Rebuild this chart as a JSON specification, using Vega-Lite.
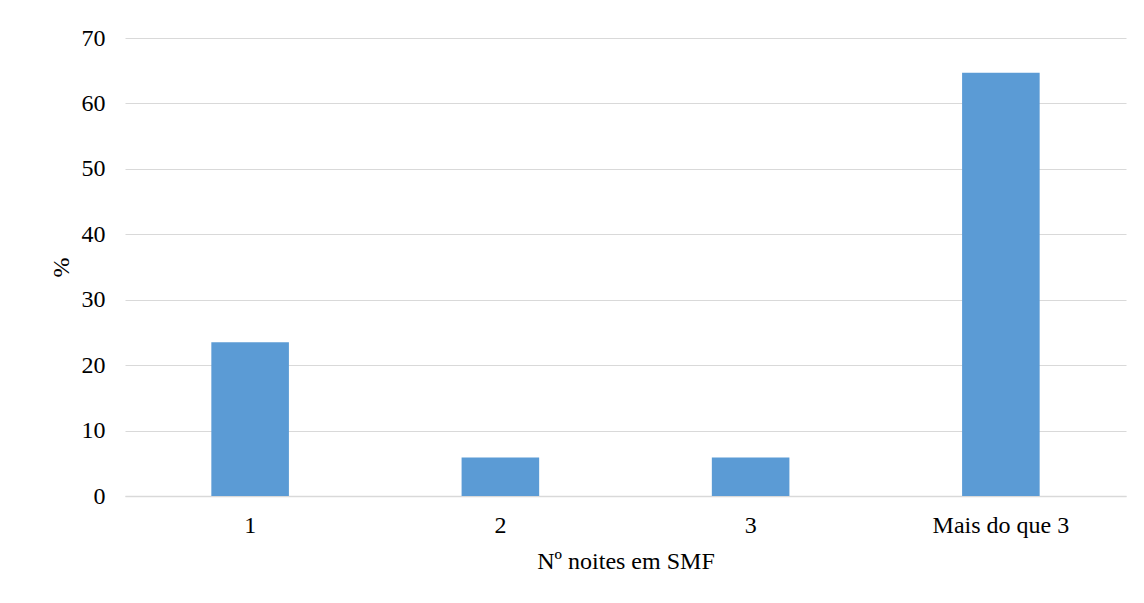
{
  "$schema": "https://vega.github.io/schema/vega-lite/v6.json",
  "autosize": "none",
  "width": 1001,
  "height": 458,
  "padding": {"left": 125, "top": 38, "right": 18, "bottom": 107},
  "background": "white",
  "config": {
    "view": {"stroke": null},
    "font": "Times New Roman, Liberation Serif, DejaVu Serif, serif",
    "axis": {"labelFont": "Times New Roman, Liberation Serif, DejaVu Serif, serif", "titleFont": "Times New Roman, Liberation Serif, DejaVu Serif, serif", "labelColor": "#000000", "titleColor": "#000000", "labelFontSize": 24, "titleFontSize": 24, "titleFontWeight": "normal"}
  },
  "data": {
    "values": [
      {"noites": "1", "pct": 23.5},
      {"noites": "2", "pct": 5.9},
      {"noites": "3", "pct": 5.9},
      {"noites": "Mais do que 3", "pct": 64.7}
    ]
  },
  "mark": {"type": "bar", "color": "#5B9BD5"},
  "encoding": {
    "x": {
      "field": "noites", "type": "nominal", "sort": null,
      "scale": {"paddingInner": 0.69, "paddingOuter": 0.345},
      "axis": {"title": "Nº noites em SMF", "labelAngle": 0, "ticks": false, "domain": true, "domainColor": "#d9d9d9", "domainWidth": 1.5, "labelPadding": 17, "titlePadding": 12}
    },
    "y": {
      "field": "pct", "type": "quantitative",
      "scale": {"domain": [0, 70]},
      "axis": {"title": "%", "values": [0,10,20,30,40,50,60,70], "ticks": false, "domain": false, "gridColor": "#d9d9d9", "gridWidth": 1.2, "labelPadding": 20, "titlePadding": 8}
    }
  }
}
